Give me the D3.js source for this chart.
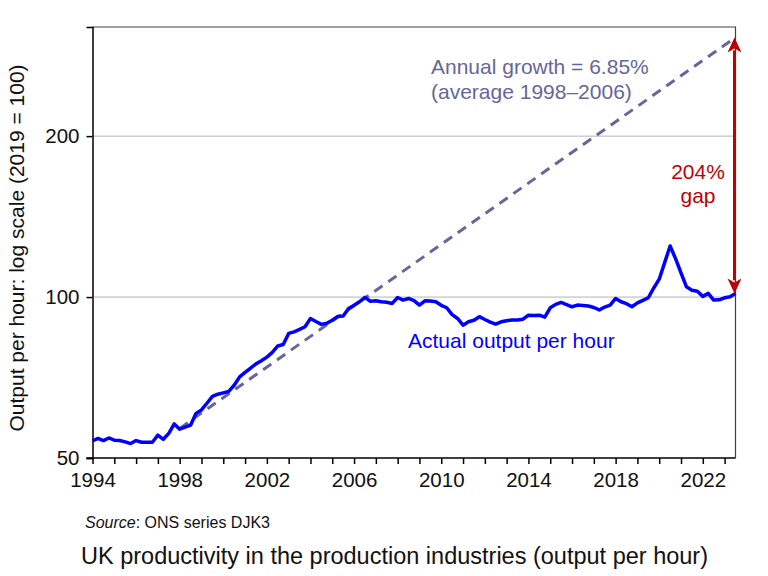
<!DOCTYPE html>
<html><head><meta charset="utf-8">
<script src="https://cdn.jsdelivr.net/npm/d3@7"></script>
<style>body{margin:0;background:#fff} svg{display:block} text{font-family:"Liberation Sans",Arial,sans-serif}</style>
</head><body><svg width="768" height="576"></svg>
<script>
// Quarterly output per hour, production industries, 1994 Q1 – 2023 Q3 (2019 = 100)
const startYear = 1994;
const quarterlyOutput = [
  53.8, 54.4, 53.9, 54.5,   // 1994
  54.0, 53.9, 53.6, 53.2,   // 1995
  53.9, 53.5, 53.5, 53.5,   // 1996
  55.2, 54.2, 55.6, 57.9,   // 1997
  56.6, 57.1, 57.6, 60.6,   // 1998
  61.5, 63.3, 65.2, 65.8,   // 1999
  66.2, 66.6, 68.4, 70.9,   // 2000
  72.3, 73.6, 75.0, 76.0,   // 2001
  77.2, 78.8, 81.0, 81.5,   // 2002
  85.5, 86.1, 87.0, 88.0,   // 2003
  91.2, 90.0, 88.9, 89.3,   // 2004
  90.5, 92.0, 92.2, 95.2,   // 2005
  96.5, 98.0, 99.9, 98.2,   // 2006
  98.4, 98.0, 97.8, 97.3,   // 2007
  99.8, 98.7, 99.4, 98.5,   // 2008
  96.6, 98.4, 98.3, 98.0,   // 2009
  96.5, 95.5, 92.7, 91.2,   // 2010
  88.6, 89.9, 90.5, 91.9,   // 2011
  90.8, 89.8, 89.0, 89.9,   // 2012
  90.3, 90.6, 90.6, 90.9,   // 2013
  92.5, 92.4, 92.5, 91.7,   // 2014
  95.5, 96.9, 97.7, 96.8,   // 2015
  95.9, 96.6, 96.4, 96.2,   // 2016
  95.6, 94.6, 95.8, 96.6,   // 2017
  99.4, 98.0, 97.2, 95.9,   // 2018
  97.5, 98.6, 99.7, 104.0,  // 2019
  108.0, 116.0, 124.6, 118.0, // 2020
  111.0, 104.5, 103.0, 102.5, // 2021
  100.3, 101.6, 98.7, 98.8,   // 2022
  99.7, 100.1, 101.6          // 2023
];
const trendYears = [1998, 2023.5];
const trendValues = [56.8, 306];
const yTickValues = [50, 100, 200];
const gridValues = [100, 200];
const xLabelYears = [1994, 1998, 2002, 2006, 2010, 2014, 2018, 2022];
const xDomain = [1994, 2023.5];
const yDomain = [50, 320];

const svg = d3.select("svg");
const L = 92.5, R = 735.5, T = 27, B = 458;
const x = d3.scaleLinear().domain(xDomain).range([L, R]);
const y = d3.scaleLog().domain(yDomain).range([B, T]);

// gridlines
svg.append("g").selectAll("line").data(gridValues).join("line")
  .attr("x1", L).attr("x2", R).attr("y1", d => y(d)).attr("y2", d => y(d))
  .attr("stroke", "#b4b4b4").attr("stroke-width", 1);

// frame top & right
svg.append("path").attr("d", `M${L},${T}H${R}V${B}`).attr("fill", "none")
  .attr("stroke", "#404040").attr("stroke-width", 1.2);

// y axis
const yAxis = d3.axisLeft(y).tickValues(yTickValues).tickFormat(d3.format("d")).tickSize(6).tickPadding(7);
const gy = svg.append("g").attr("transform", `translate(${L},0)`).call(yAxis);
gy.select(".domain").attr("stroke", "#000").attr("stroke-width", 1.5);
gy.selectAll(".tick line").attr("stroke", "#000").attr("stroke-width", 1.5);
gy.selectAll("text").attr("font-size", 20.5).attr("fill", "#111").style("font-family", '"Liberation Sans",Arial,sans-serif');

// x axis with yearly ticks
const yearTicks = d3.range(1994, 2024);
const xAxis = d3.axisBottom(x).tickValues(yearTicks)
  .tickFormat(d => xLabelYears.includes(d) ? String(d) : "").tickSize(6).tickPadding(8).tickSizeOuter(0);
const gx = svg.append("g").attr("transform", `translate(0,${B})`).call(xAxis);
gx.select(".domain").attr("stroke", "#000").attr("stroke-width", 1.5).attr("d", `M${L - 6},0H${R}`);
gx.selectAll(".tick line").attr("stroke", "#000").attr("stroke-width", 1.5);
gx.selectAll("text").attr("font-size", 20.5).attr("fill", "#111").style("font-family", '"Liberation Sans",Arial,sans-serif');

// trend line
svg.append("path")
  .datum(trendYears.map((t, i) => [t, trendValues[i]]))
  .attr("d", d3.line().x(d => x(d[0])).y(d => y(d[1])))
  .attr("fill", "none").attr("stroke", "#666699").attr("stroke-width", 3)
  .attr("stroke-dasharray", "10,7");

// actual line
const series = quarterlyOutput.map((v, i) => [startYear + i / 4, v]);
svg.append("path").datum(series)
  .attr("d", d3.line().x(d => x(d[0])).y(d => y(d[1])))
  .attr("fill", "none").attr("stroke", "#0000ff").attr("stroke-width", 3.5)
  .attr("stroke-linejoin", "round");

// gap arrow
const lastT = series[series.length - 1][0];
const lastV = series[series.length - 1][1];
const ax = x(lastT) - 1;
const yTop = y(trendValues[1]), yBot = y(lastV);
const red = "#c00000", hl = 15, hw = 7;
svg.append("line").attr("x1", ax).attr("x2", ax).attr("y1", yTop + hl - 2).attr("y2", yBot - hl + 2)
  .attr("stroke", red).attr("stroke-width", 3);
svg.append("path").attr("d", `M${ax},${yTop}L${ax - hw},${yTop + hl}L${ax},${yTop + hl - 4}L${ax + hw},${yTop + hl}Z`).attr("fill", red);
svg.append("path").attr("d", `M${ax},${yBot}L${ax - hw},${yBot - hl}L${ax},${yBot - hl + 4}L${ax + hw},${yBot - hl}Z`).attr("fill", red);

// annotations
const ann = svg.append("g").style("font-family", '"Liberation Sans",Arial,sans-serif');
ann.append("text").attr("x", 431).attr("y", 74).attr("font-size", 21).attr("fill", "#666699").text("Annual growth = 6.85%");
ann.append("text").attr("x", 431).attr("y", 99).attr("font-size", 21).attr("fill", "#666699").text("(average 1998–2006)");
ann.append("text").attr("x", 698).attr("y", 179).attr("font-size", 21).attr("fill", red).attr("text-anchor", "middle").text("204%");
ann.append("text").attr("x", 698).attr("y", 203).attr("font-size", 21).attr("fill", red).attr("text-anchor", "middle").text("gap");
ann.append("text").attr("x", 408).attr("y", 348).attr("font-size", 21).attr("fill", "#0000ff").text("Actual output per hour");

// y title
ann.append("text").attr("transform", "translate(24,248) rotate(-90)").attr("text-anchor", "middle")
  .attr("font-size", 21).attr("fill", "#111").text("Output per hour: log scale (2019 = 100)");

// source
const src = ann.append("text").attr("x", 85).attr("y", 528).attr("font-size", 16).attr("fill", "#111");
src.append("tspan").attr("font-style", "italic").text("Source");
src.append("tspan").text(": ONS series DJK3");

// title
ann.append("text").attr("x", 81).attr("y", 564).attr("font-size", 23.5).attr("fill", "#111")
  .text("UK productivity in the production industries (output per hour)");
</script></body></html>
